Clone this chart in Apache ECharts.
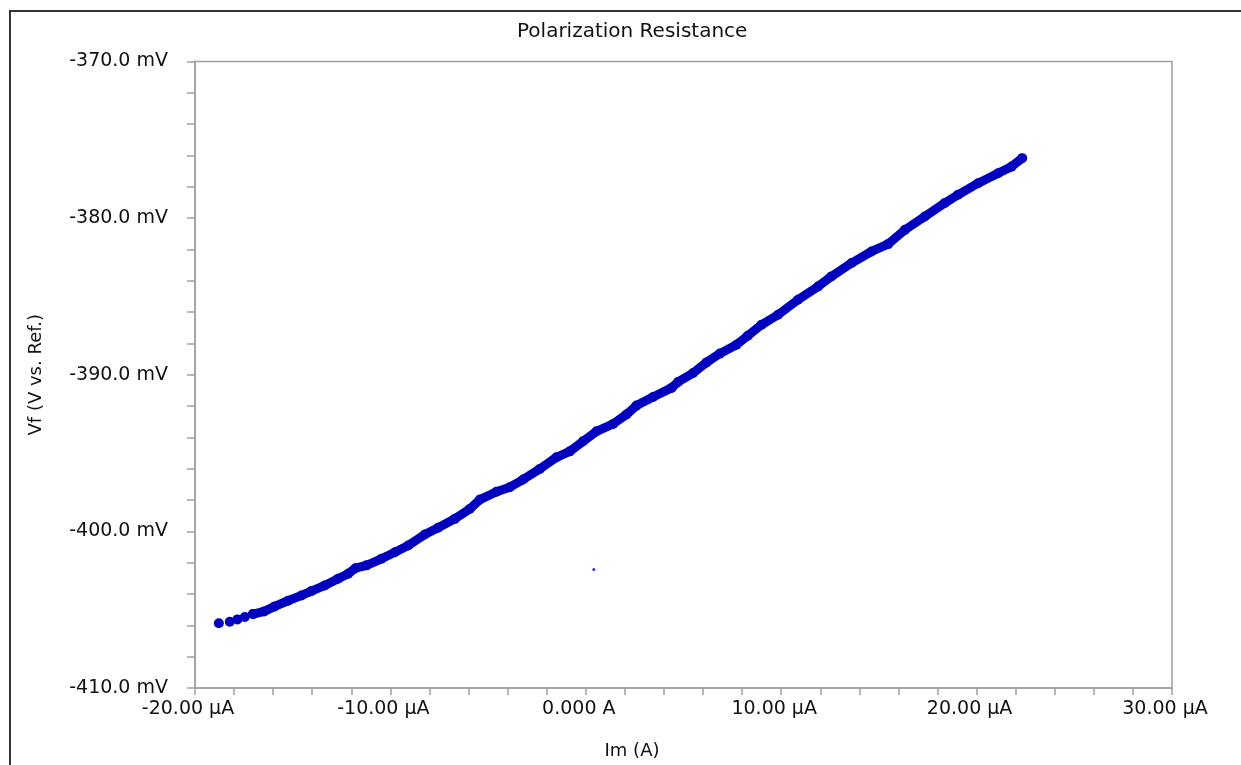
<!DOCTYPE html>
<html>
<head>
<meta charset="utf-8">
<title>Polarization Resistance</title>
<script src="https://cdn.jsdelivr.net/npm/echarts@6/dist/echarts.min.js"></script>
<style>
html, body { margin: 0; padding: 0; background: #fff; }
#chartDiv { width: 1241px; height: 765px; }
</style>
</head>
<body>
<div id="chartDiv"></div>
<script>
var myChart = echarts.init(document.getElementById('chartDiv'));

// first few readings, visibly separate dots (Im in µA, Vf in mV)
var imStart = [-18.78, -18.22, -17.83, -17.45, -17.03];
var vfStart = [-405.87, -405.77, -405.62, -405.47, -405.28];

// rest of the sweep, dense enough to read as a band
var imSweep = [-17.03, -16.46, -15.92, -15.24, -14.55, -14.04, -13.36, -12.68, -12.16, -11.79,
    -11.22, -10.46, -9.77, -9.09, -8.24, -7.56, -6.70, -5.94, -5.42, -4.57,
    -3.89, -3.21, -2.35, -1.50, -0.82, -0.14, 0.55, 1.40, 2.08, 2.59,
    3.44, 4.39, 4.72, 5.49, 6.18, 6.86, 7.71, 8.29, 8.99, 9.84,
    10.86, 11.89, 12.57, 13.60, 14.62, 15.47, 16.33, 17.35, 18.37, 19.05,
    20.08, 21.10, 21.79, 22.33];
var vfSweep = [-405.28, -405.11, -404.79, -404.43, -404.09, -403.81, -403.45, -403.02, -402.70, -402.35,
    -402.17, -401.75, -401.33, -400.90, -400.20, -399.77, -399.20, -398.57, -397.97, -397.47,
    -397.18, -396.69, -396.01, -395.27, -394.89, -394.25, -393.61, -393.14, -392.54, -391.97,
    -391.42, -390.84, -390.46, -389.89, -389.21, -388.65, -388.08, -387.51, -386.81, -386.17,
    -385.21, -384.36, -383.72, -382.87, -382.13, -381.66, -380.75, -379.90, -379.04, -378.51,
    -377.77, -377.13, -376.71, -376.17];

// lone stray reading below the curve
var imStray = [0.41];
var vfStray = [-402.43];

var xLabelValues = [-20, -10, 0, 10, 20, 30];
var xLabelTexts = ['-20.00 µA', '-10.00 µA', '0.000 A', '10.00 µA', '20.00 µA', '30.00 µA'];
var yLabelValues = [-410, -400, -390, -380, -370];
var yLabelTexts = ['-410.0 mV', '-400.0 mV', '-390.0 mV', '-380.0 mV', '-370.0 mV'];

function pairs(xs, ys) {
    return xs.map(function (x, i) { return [x, ys[i]]; });
}

var fontFam = '"DejaVu Sans", "Liberation Sans", Arial, sans-serif';
var axisGray = '#a0a0a0';
var dotBlue = '#0000bf';
var textCol = '#111';

option = {
    backgroundColor: '#fff',
    animation: false,
    textStyle: { fontFamily: fontFam },
    title: {
        text: 'Polarization Resistance',
        left: 512,
        top: 17,
        textStyle: { fontSize: 20, fontWeight: 'normal', color: textCol, fontFamily: fontFam }
    },
    graphic: [{
        type: 'rect',
        shape: { x: 10, y: 11, width: 1300, height: 800 },
        style: { fill: 'none', stroke: '#333', lineWidth: 2 },
        silent: true
    }],
    grid: {
        left: 195,
        right: 69,
        top: 61.5,
        bottom: 76,
        show: true,
        borderColor: axisGray,
        borderWidth: 1.5
    },
    xAxis: {
        type: 'value',
        min: -20,
        max: 30,
        interval: 2,
        name: 'Im (A)',
        nameLocation: 'middle',
        nameGap: 54,
        nameTextStyle: { fontSize: 18, color: textCol, padding: [0, 103, 0, 0] },
        axisLine: { show: true, onZero: false, lineStyle: { color: axisGray, width: 1.5 } },
        axisTick: { show: true, inside: false, length: 7, lineStyle: { color: axisGray, width: 1.5 } },
        axisLabel: {
            margin: 12,
            fontSize: 19,
            color: textCol,
            showMinLabel: true,
            showMaxLabel: true,
            padding: [0, 14, 0, 0],
            formatter: function (v) {
                var i = xLabelValues.indexOf(Math.round(v));
                return (i >= 0 && Math.abs(v - Math.round(v)) < 1e-6) ? xLabelTexts[i] : '';
            }
        },
        splitLine: { show: false }
    },
    yAxis: {
        type: 'value',
        min: -410,
        max: -370,
        interval: 2,
        name: 'Vf (V vs. Ref.)',
        nameLocation: 'middle',
        nameGap: 150,
        nameRotate: 90,
        nameTextStyle: { fontSize: 18, color: textCol },
        axisLine: { show: true, onZero: false, lineStyle: { color: axisGray, width: 1.5 } },
        axisTick: { show: true, inside: false, length: 8, lineStyle: { color: axisGray, width: 1.5 } },
        axisLabel: {
            margin: 27,
            fontSize: 19,
            color: textCol,
            showMinLabel: true,
            showMaxLabel: true,
            formatter: function (v) {
                var i = yLabelValues.indexOf(Math.round(v));
                return (i >= 0 && Math.abs(v - Math.round(v)) < 1e-6) ? yLabelTexts[i] : '';
            }
        },
        splitLine: { show: false }
    },
    series: [
        {
            name: 'sweep',
            type: 'line',
            data: pairs(imSweep, vfSweep),
            symbol: 'circle',
            symbolSize: 10,
            showSymbol: true,
            showAllSymbol: true,
            itemStyle: { color: dotBlue },
            lineStyle: { color: dotBlue, width: 9, cap: 'round', join: 'round' }
        },
        {
            name: 'start',
            type: 'scatter',
            data: pairs(imStart, vfStart),
            symbol: 'circle',
            symbolSize: 10,
            itemStyle: { color: dotBlue, opacity: 1 }
        },
        {
            name: 'stray',
            type: 'scatter',
            data: pairs(imStray, vfStray),
            symbol: 'circle',
            symbolSize: 3,
            itemStyle: { color: '#3030ff', opacity: 1 }
        }
    ]
};
myChart.setOption(option);
window.onresize = myChart.resize;
</script>
</body>
</html>
